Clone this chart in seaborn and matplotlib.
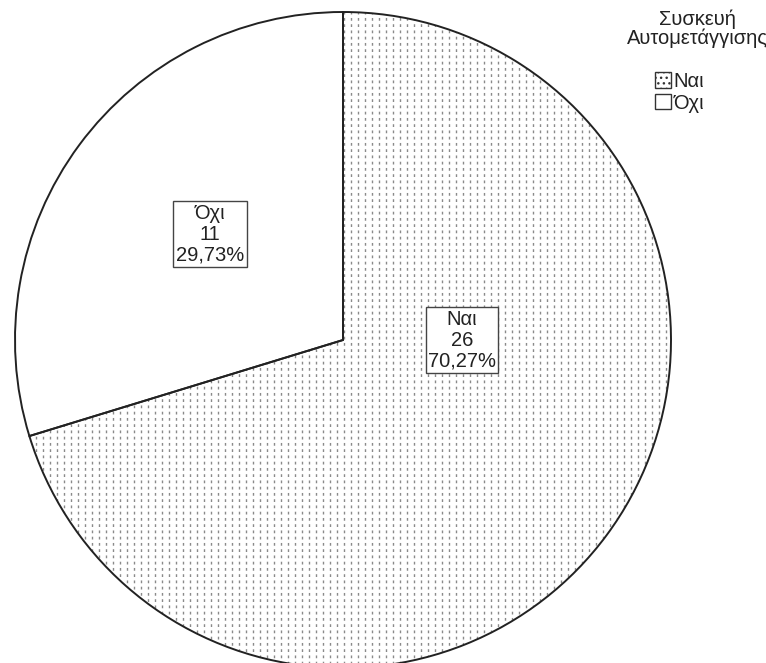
import numpy as np
import matplotlib
matplotlib.use("Agg")
import matplotlib.pyplot as plt
from matplotlib.patches import Patch
import seaborn as sns

# Device usage counts
categories = ["Ναι", "Όχι"]
counts = [26, 11]
legend_title = "Συσκευή\nΑυτομετάγγισης"

sns.set_theme(style="white")
plt.rcParams["font.family"] = ["Liberation Sans Narrow", "Liberation Sans", "DejaVu Sans"]
plt.rcParams["hatch.color"] = "#8a8a8a"

fig = plt.figure(figsize=(7.66, 6.63), dpi=100)
ax = fig.add_axes([0, 0, 1, 1])

R = 328.0
cx, cy = 343.0, 340.0
W, H = 766.0, 663.0

# white fills
wedges, _ = ax.pie(counts, startangle=90, counterclock=False,
                   colors=["white", "white"],
                   wedgeprops=dict(edgecolor="none", linewidth=0))

# dotted vertical fill for the first wedge
xs = np.arange(-1.0, 1.0, 7.0 / R)
lines = ax.vlines(xs, -1.05, 1.05, colors="#8a8a8a", linewidth=1.0,
                  linestyles=(0, (2, 2.5)), zorder=2)
lines.set_clip_path(wedges[0])

# outlines on top
ax.pie(counts, startangle=90, counterclock=False,
       wedgeprops=dict(fill=False, edgecolor="#222222", linewidth=1.4, zorder=5))

ax.set_xlim(-cx / R, (W - cx) / R)
ax.set_ylim((cy - H) / R, cy / R)
ax.set_aspect("equal")
ax.axis("off")

total = sum(counts)
label_pos = [((462 - cx) / R, (cy - 340) / R), ((210 - cx) / R, (cy - 234) / R)]
for cat, n, (lx, ly) in zip(categories, counts, label_pos):
    pct = f"{100 * n / total:.2f}%".replace(".", ",")
    ax.text(lx, ly, f"{cat}\n{n}\n{pct}", ha="center", va="center",
            fontsize=14.5, linespacing=1.12, color="#222222", zorder=6,
            bbox=dict(boxstyle="square,pad=0.12", facecolor="white",
                      edgecolor="#444444", linewidth=1.0))

# legend title and entries
fig.text(697 / W, 1 - 29 / H, legend_title, ha="center", va="center",
         fontsize=14.5, linespacing=0.95, color="#222222")
handles = [Patch(facecolor="white", edgecolor="#333333", hatch="...", label=categories[0]),
           Patch(facecolor="white", edgecolor="#333333", label=categories[1])]
leg = fig.legend(handles=handles, loc="upper left",
                 bbox_to_anchor=(641 / W, 1 - 58 / H), frameon=False,
                 fontsize=14.5, handlelength=0.8, handleheight=0.8,
                 handletextpad=0.1, labelspacing=0.12, borderpad=0.2)
for t in leg.get_texts():
    t.set_color("#222222")

fig.savefig("out.png", dpi=100)
